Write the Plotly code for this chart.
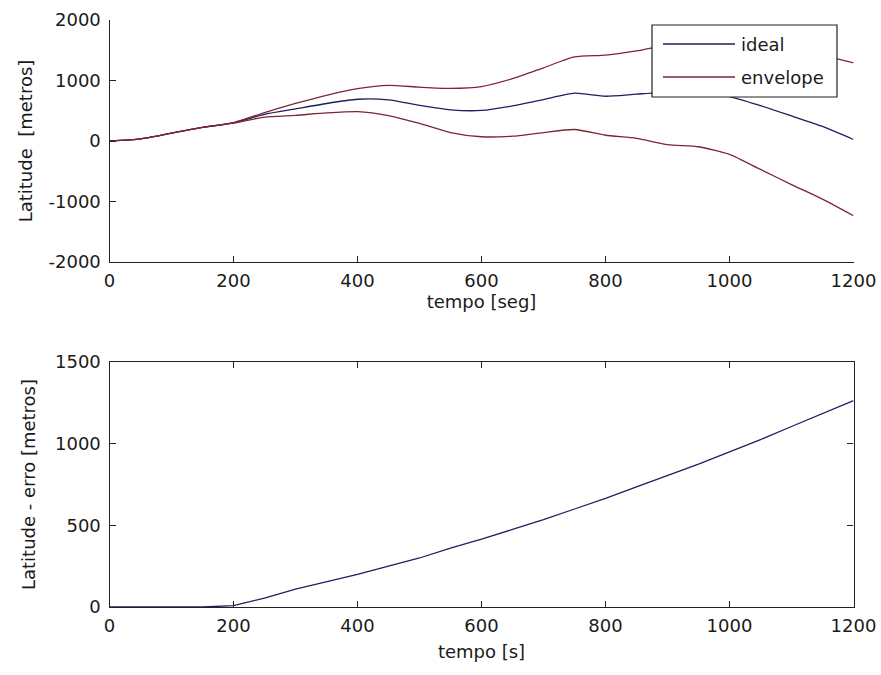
import plotly.graph_objects as go

# Sample times [s]
tempo = [0, 50, 100, 150, 200, 250, 300, 350, 400, 450, 500, 550, 600,
         650, 700, 750, 800, 850, 900, 950, 1000, 1050, 1100, 1150, 1200]

# Latitude trajectory [m]
ideal = [0, 35, 130, 225, 300, 440, 530, 620, 690, 680, 590, 515, 505,
         580, 685, 790, 740, 775, 805, 790, 735, 585, 415, 240, 25]
# Upper and lower envelope [m]
env_sup = [0, 35, 130, 225, 305, 470, 620, 755, 865, 920, 890, 870, 900,
           1030, 1210, 1390, 1420, 1490, 1590, 1650, 1690, 1610, 1520, 1420, 1290]
env_inf = [0, 35, 130, 225, 295, 395, 425, 465, 485, 420, 290, 140, 70,
           80, 140, 190, 95, 45, -60, -95, -220, -470, -720, -960, -1235]
# Latitude error [m]
erro = [0, 0, 0, 0, 8, 55, 110, 155, 200, 250, 300, 360, 415,
        475, 535, 600, 665, 735, 805, 875, 950, 1025, 1105, 1185, 1263]

series_names = ["ideal", "envelope"]
x_ticks = [0, 200, 400, 600, 800, 1000, 1200]
y_ticks_top = [-2000, -1000, 0, 1000, 2000]
y_ticks_bot = [0, 500, 1000, 1500]

W, H = 881, 675
BLUE = "#1e1e62"
RED = "#7c2630"
FONT = dict(family="DejaVu Sans, sans-serif", size=18, color="#1a1a1a")


def px(x):
    return x / W


def py(y):
    return 1 - y / H


def labels(vals):
    # plain hyphen for negative numbers
    return [str(v) for v in vals]


fig = go.Figure()
line_kw = dict(shape="spline", smoothing=0.6, width=1.3)
fig.add_trace(go.Scatter(x=tempo, y=ideal, mode="lines", name=series_names[0],
                         line=dict(color=BLUE, **line_kw), showlegend=False,
                         xaxis="x", yaxis="y"))
fig.add_trace(go.Scatter(x=tempo, y=env_sup, mode="lines", name=series_names[1],
                         line=dict(color=RED, **line_kw), showlegend=False,
                         xaxis="x", yaxis="y"))
fig.add_trace(go.Scatter(x=tempo, y=env_inf, mode="lines", name=series_names[1],
                         line=dict(color=RED, **line_kw), showlegend=False,
                         xaxis="x", yaxis="y"))
fig.add_trace(go.Scatter(x=tempo, y=erro, mode="lines", name="erro",
                         line=dict(color=BLUE, width=1.3),
                         showlegend=False, xaxis="x2", yaxis="y2"))

axis_common = dict(showline=True, linecolor="#222", linewidth=1.2,
                   showgrid=False, zeroline=False, ticks="inside",
                   ticklen=6, tickcolor="#222", tickfont=FONT,
                   automargin=False)

fig.update_layout(
    width=W, height=H,
    margin=dict(l=0, r=0, t=0, b=0),
    paper_bgcolor="white", plot_bgcolor="white",
    font=FONT,
    xaxis=dict(domain=[px(109.5), px(853.5)], range=[0, 1200],
               tickvals=x_ticks, ticktext=labels(x_ticks), anchor="y",
               ticklabelstandoff=2,
               title=dict(text="tempo [seg]", font=FONT, standoff=4),
               **axis_common),
    yaxis=dict(domain=[py(262), py(20)], range=[-2000, 2000],
               tickvals=y_ticks_top, ticktext=labels(y_ticks_top), anchor="x",
               ticklabelstandoff=4,
               title=dict(text="Latitude\u00a0 [metros]", font=FONT, standoff=11),
               **axis_common),
    xaxis2=dict(domain=[px(109.5), px(853.5)], range=[0, 1200],
                tickvals=x_ticks, ticktext=labels(x_ticks), anchor="y2",
                mirror="ticks", ticklabelstandoff=2,
                title=dict(text="tempo [s]", font=FONT, standoff=10),
                **axis_common),
    yaxis2=dict(domain=[py(607), py(362)], range=[0, 1500],
                tickvals=y_ticks_bot, ticktext=labels(y_ticks_bot), anchor="x2",
                mirror="ticks", ticklabelstandoff=4,
                title=dict(text="Latitude - erro [metros]", font=FONT, standoff=14),
                **axis_common),
)

# Legend box in the upper panel
fig.add_shape(type="rect", xref="paper", yref="paper",
              x0=px(652), x1=px(837), y0=py(97), y1=py(25),
              line=dict(color="#222", width=1.2), fillcolor="white", layer="above")
for i, (name, color) in enumerate(zip(series_names, [BLUE, RED])):
    yy = 44 + 33 * i
    fig.add_shape(type="line", xref="paper", yref="paper",
                  x0=px(663), x1=px(735), y0=py(yy), y1=py(yy),
                  line=dict(color=color, width=1.3), layer="above")
    fig.add_annotation(xref="paper", yref="paper", x=px(739), y=py(yy),
                       text=name, showarrow=False, xanchor="left",
                       yanchor="middle", font=FONT)

fig.write_html("out.html")
